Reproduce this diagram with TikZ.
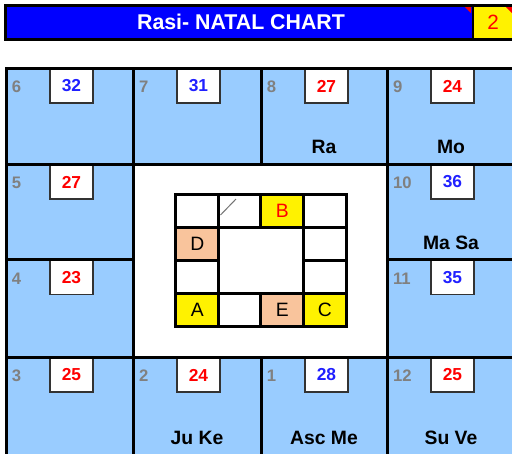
\documentclass[tikz,border=0pt]{standalone}
\usepackage{fontspec}
\setmainfont{Liberation Sans}
\definecolor{barblue}{HTML}{0000FF}
\definecolor{cellblue}{HTML}{99CCFF}
\definecolor{peach}{HTML}{F9C49C}
\definecolor{degred}{HTML}{FF0000}
\definecolor{degblue}{HTML}{2020FF}
\begin{document}
\begin{tikzpicture}[x={(0.75pt,0)},y={(0,-0.75pt)},
  every node/.style={inner sep=0pt, outer sep=0pt},
  house/.style={text=black!50, font=\fontsize{12.5}{14}\selectfont\bfseries, anchor=west},
  degbox/.style={draw=black!80, line width=0.9pt, fill=white, minimum width=32.25pt, minimum height=25.5pt, anchor=north west, font=\fontsize{13}{15}\selectfont\bfseries},
  planets/.style={font=\fontsize{14.5}{16}\selectfont\bfseries},
  wall/.style={line width=2.25pt, line cap=rect},
  mini/.style={draw, line width=2.25pt, minimum width=31.9pt, minimum height=24.75pt, font=\fontsize{14.5}{16}\selectfont}]
\useasboundingbox (0,0) rectangle (512,454);
\clip (0,0) rectangle (512,454);

% title bar
\fill[barblue] (5,5) rectangle (472,39);
\fill[yellow] (472,5) rectangle (516,39);
\draw[line width=2.25pt] (5,5) rectangle (516,39);
\draw[line width=1.5pt] (472.5,5) -- (472.5,39);
\fill[degred] (465,7) -- (471,7) -- (471,13) -- cycle;
\fill[degred] (506,7) -- (512,7) -- (512,13) -- cycle;
\node[font=\fontsize{16}{18}\selectfont\bfseries, text=white] (title) at (241,21.5) {Rasi- NATAL CHART};
\node[font=\fontsize{15.5}{17}\selectfont, text=degred] (chartno) at (493,22.5) {2};

% houses
\fill[cellblue] (6,68) rectangle (520,460);
\fill[white] (133,164) rectangle (387,357);

\node[degbox, text=degblue] (d6) at (50,69) {32};
\node[degbox, text=degblue] (d7) at (177,69) {31};
\node[degbox, text=degred] (d8) at (305,69) {27};
\node[degbox, text=degred] (d9) at (431,69) {24};
\node[degbox, text=degred] (d5) at (50,165) {27};
\node[degbox, text=degblue] (d10) at (431,165) {36};
\node[degbox, text=degred] (d4) at (50,260.5) {23};
\node[degbox, text=degblue] (d11) at (431,260.5) {35};
\node[degbox, text=degred] (d3) at (50,358) {25};
\node[degbox, text=degred] (d2) at (177,358) {24};
\node[degbox, text=degblue] (d1) at (305,358) {28};
\node[degbox, text=degred] (d12) at (431,358) {25};

\draw[wall] (6,68) -- (520,68);
\draw[wall] (6,164) -- (520,164);
\draw[wall] (6,259.5) -- (133,259.5);
\draw[wall] (387,259.5) -- (520,259.5);
\draw[wall] (6,357) -- (520,357);
\draw[wall] (6,68) -- (6,460);
\draw[wall] (133,68) -- (133,460);
\draw[wall] (261,68) -- (261,164);
\draw[wall] (261,357) -- (261,460);
\draw[wall] (387,68) -- (387,460);

\node[house] (h6) at (12,87) {6};
\node[house] (h7) at (139,87) {7};
\node[house] (h8) at (267,87) {8};
\node[house] (h9) at (393,87) {9};
\node[house] (h5) at (12,183) {5};
\node[house] (h10) at (393,183) {10};
\node[house] (h4) at (12,278.5) {4};
\node[house] (h11) at (393,278.5) {11};
\node[house] (h3) at (12,376) {3};
\node[house] (h2) at (139,376) {2};
\node[house] (h1) at (267,376) {1};
\node[house] (h12) at (393,376) {12};

\node[planets] (p8) at (324,147) {Ra};
\node[planets] (p9) at (451,147) {Mo};
\node[planets] (p10) at (451,243) {Ma Sa};
\node[planets] (p2) at (197,438) {Ju Ke};
\node[planets] (p1) at (324,438) {Asc Me};
\node[planets] (p12) at (451,438) {Su Ve};

% small chart in the middle
\node[mini, fill=white] (m00) at (197.25,210.5) {};
\node[mini, fill=white] (m01) at (239.75,210.5) {};
\node[mini, fill=yellow, text=degred] (m02) at (282.25,210.5) {B};
\node[mini, fill=white] (m03) at (324.75,210.5) {};
\node[mini, fill=peach] (m10) at (197.25,243.5) {D};
\node[mini, fill=white] (m13) at (324.75,243.5) {};
\node[mini, fill=white] (m20) at (197.25,276.5) {};
\node[mini, fill=white] (m23) at (324.75,276.5) {};
\node[mini, fill=yellow] (m30) at (197.25,309.5) {A};
\node[mini, fill=white] (m31) at (239.75,309.5) {};
\node[mini, fill=peach] (m32) at (282.25,309.5) {E};
\node[mini, fill=yellow] (m33) at (324.75,309.5) {C};
\node[mini, fill=white, minimum width=63.75pt, minimum height=49.5pt] (mid) at (261,260) {};
\draw[black!55, line width=0.75pt] (220.5,215) -- (236,199);
\end{tikzpicture}
\end{document}
